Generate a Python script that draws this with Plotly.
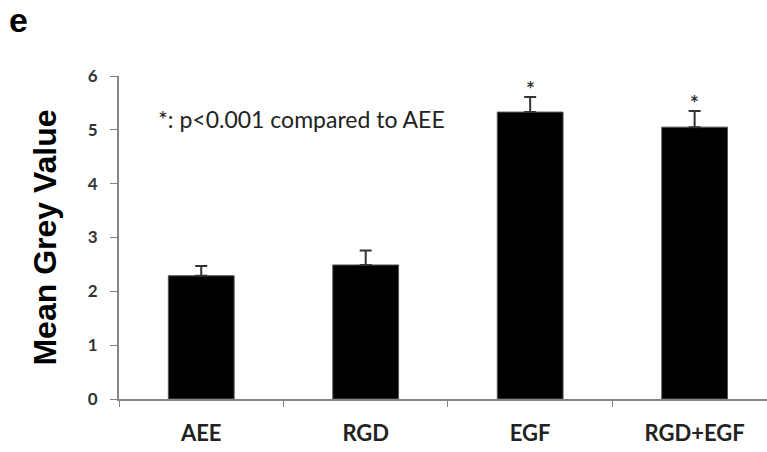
import plotly.graph_objects as go

# Group means and their standard errors
groups = ["AEE", "RGD", "EGF", "RGD+EGF"]
means = [2.29, 2.49, 5.33, 5.05]
errors = [0.18, 0.27, 0.28, 0.30]
significant = [False, False, True, True]

fig = go.Figure()
fig.add_trace(go.Bar(
    x=groups,
    y=means,
    width=0.4,
    marker=dict(color="black", line=dict(color="#555555", width=1)),
    error_y=dict(type="data", array=errors, arrayminus=[0] * len(errors),
                 symmetric=False, color="#333333", thickness=2, width=6),
    showlegend=False,
))

# significance stars above the error bars
for g, m, e, s in zip(groups, means, errors, significant):
    if s:
        fig.add_annotation(x=g, y=m + e, text="<b>*</b>", showarrow=False,
                           yshift=8, font=dict(family="Lato", size=21, color="#333333"))

fig.add_annotation(x=-0.275, y=5.2, xref="x", yref="y", xanchor="left",
                   text="*: p<0.001 compared to AEE", showarrow=False,
                   font=dict(family="Lato", size=23, color="#222222"))

# panel letter
fig.add_annotation(text="<b>e</b>", showarrow=False,
                   xref="x domain", yref="y domain",
                   x=(18 - 119) / 648, y=(399 - 20) / 323,
                   xanchor="center", yanchor="middle",
                   font=dict(family="Liberation Sans", size=34, color="black"))

fig.update_layout(
    width=767, height=452,
    margin=dict(l=119, r=0, t=76, b=53),
    plot_bgcolor="white", paper_bgcolor="white",
)
fig.update_xaxes(
    range=[-0.5, 3.44],
    showline=True, linecolor="#868686", linewidth=2,
    ticks="outside", tickson="boundaries", ticklen=6, tickcolor="#868686",
    tickfont=dict(family="Lato", size=22, color="#222222", weight="bold"),
    ticklabelstandoff=14,
    showgrid=False, zeroline=False,
)
fig.update_yaxes(
    range=[0, 6], dtick=1,
    showline=True, linecolor="#868686", linewidth=2,
    ticks="outside", ticklen=7, tickcolor="#868686",
    tickfont=dict(family="Lato", size=17, color="#333333", weight="bold"),
    ticklabelstandoff=9,
    showgrid=False, zeroline=False,
    title=dict(text="<b>Mean Grey Value</b>", standoff=22,
               font=dict(family="Liberation Sans", size=32, color="black")),
)

fig.write_html("out.html")
